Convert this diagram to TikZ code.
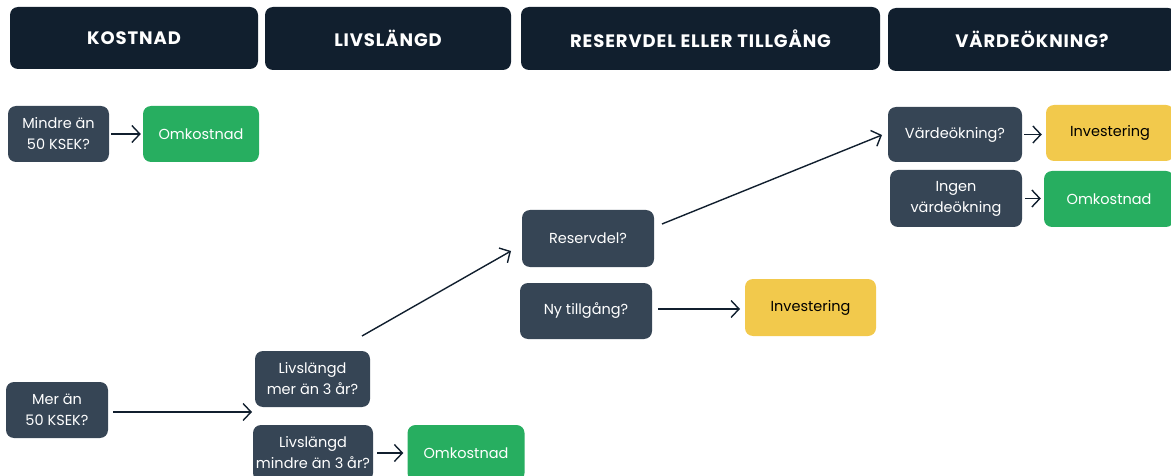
\documentclass[tikz,border=0pt]{standalone}
\usepackage{fontspec}
\setmainfont{Poppins}
\usetikzlibrary{arrows.meta}
\definecolor{hdr}{HTML}{111F2E}
\definecolor{slate}{HTML}{364555}
\definecolor{okgreen}{HTML}{27AE60}
\definecolor{okyellow}{HTML}{F2C94C}
\tikzset{
  box/.style={rounded corners=8pt, inner sep=0pt, align=center, font={\fontsize{14.5}{21}\selectfont}},
  header/.style={box, fill=hdr, text=white, font={\fontsize{18}{22}\selectfont\bfseries\addfontfeature{LetterSpace=5}}},
  question/.style={box, fill=slate, text=white},
  costbox/.style={box, fill=okgreen, text=white},
  investbox/.style={box, fill=okyellow, text=black},
  flow/.style={draw=hdr, line width=1.4pt, -{Straight Barb[length=8pt,width=17pt,line width=1.4pt]}},
}
\begin{document}
\begin{tikzpicture}[x=1pt,y=-1pt]
\useasboundingbox (0,0) rectangle (1171,476);
% headers
\node[header, minimum width=248pt, minimum height=62pt] (h1) at (134,38) {KOSTNAD};
\node[header, minimum width=246pt, minimum height=63pt] (h2) at (388,38.5) {LIVSLÄNGD};
\node[header, minimum width=359pt, minimum height=63pt] (h3) at (700.5,38.5) {RESERVDEL ELLER TILLGÅNG};
\node[header, minimum width=288pt, minimum height=63pt] (h4) at (1032,39.5) {VÄRDEÖKNING?};
% column 1
\node[question, minimum width=101pt, minimum height=56pt] (mindre) at (58.5,134) {Mindre än\\50 KSEK?};
\node[costbox, minimum width=116pt, minimum height=56pt] (omk1) at (201,134) {Omkostnad};
\node[question, minimum width=102pt, minimum height=56pt] (mer) at (57,410) {Mer än\\50 KSEK?};
% column 2
\node[question, minimum width=115pt, minimum height=56pt] (livsmer) at (312.5,379) {Livslängd\\mer än 3 år?};
\node[question, minimum width=120pt, minimum height=56pt] (livsmindre) at (313,453) {Livslängd\\mindre än 3 år?};
\node[costbox, minimum width=117pt, minimum height=56pt] (omk3) at (466,453) {Omkostnad};
% column 3
\node[question, minimum width=132pt, minimum height=57pt] (reserv) at (588,238.5) {Reservdel?};
\node[question, minimum width=132pt, minimum height=56pt] (ny) at (586,311) {Ny tillgång?};
\node[investbox, minimum width=131pt, minimum height=57pt] (inv2) at (810.5,307.5) {Investering};
% column 4
\node[question, minimum width=134pt, minimum height=55pt] (varde) at (955,134.5) {Värdeökning?};
\node[investbox, minimum width=128pt, minimum height=56pt] (inv1) at (1110,133) {Investering};
\node[question, minimum width=132pt, minimum height=57pt] (ingen) at (956,198.5) {Ingen\\värdeökning};
\node[costbox, minimum width=130pt, minimum height=56pt] (omk2) at (1109,199) {Omkostnad};
% connector end points
\coordinate (m1) at (252,412);
\coordinate (n1) at (740,309);
\coordinate (d1s) at (362,336);
\coordinate (d1e) at (511,251);
\coordinate (d2s) at (662,224);
\coordinate (d2e) at (882,135);
% connectors
\draw[flow, shorten <=2pt, shorten >=2pt] (mindre.east) -- (omk1.west);
\draw[flow, shorten <=5pt] (mer.east |- m1) -- (m1);
\draw[flow, shorten <=4pt, shorten >=4pt] (livsmindre.east) -- (omk3.west);
\draw[flow] (d1s) -- (d1e);
\draw[flow] (d2s) -- (d2e);
\draw[flow, shorten <=6pt] (ny.east |- n1) -- (n1);
\draw[flow, shorten <=2pt, shorten >=4pt] (varde.east) -- (inv1.west |- varde.east);
\draw[flow, shorten <=3pt, shorten >=3pt] (ingen.east) -- (omk2.west |- ingen.east);
\end{tikzpicture}
\end{document}
